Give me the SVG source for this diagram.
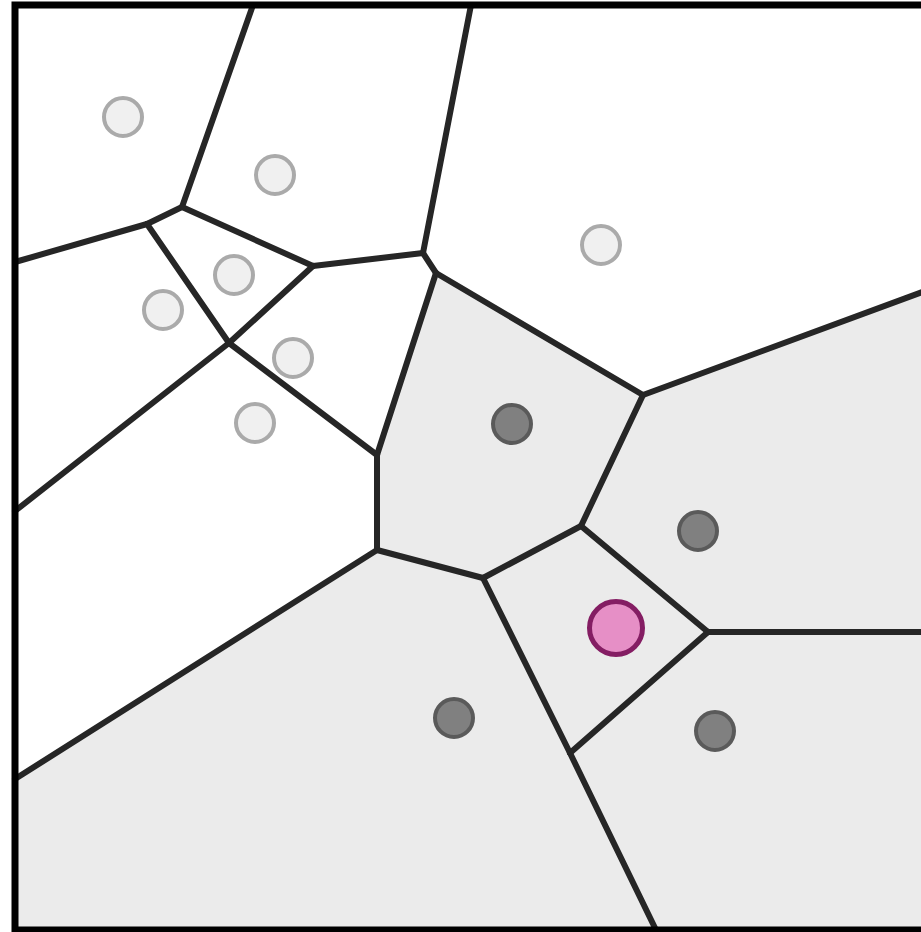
<svg xmlns="http://www.w3.org/2000/svg" width="921" height="932" viewBox="0 0 921 932">
<style>
.cell{fill:#ebebeb;stroke:none}
.edge{fill:none;stroke:#262626;stroke-width:6;stroke-linecap:round;stroke-linejoin:round}
.border{fill:none;stroke:#000;stroke-width:7}
.light{fill:#f0f0f0;stroke:#aaaaaa;stroke-width:4}
.dark{fill:#808080;stroke:#5a5a5a;stroke-width:4}
.query{fill:#e68fc6;stroke:#841d63;stroke-width:5}
</style>
<rect x="0" y="0" width="921" height="932" fill="#fff"/>
<g id="cells">
<polygon id="cell-d1" class="cell" points="436,273 643,395 581,526 483,578 377,550 377,455"/>
<polygon id="cell-d2" class="cell" points="643,395 925,291 925,632 708,632 581,526"/>
<polygon id="cell-q" class="cell" points="581,526 708,632 570,753 483,578"/>
<polygon id="cell-d3" class="cell" points="708,632 925,632 925,930 656,930 570,753"/>
<polygon id="cell-d4" class="cell" points="377,550 483,578 570,753 656,930 15,930 15,779"/>
</g>
<g id="connectors">
<path class="edge" d="M253,5 L182,207"/>
<path class="edge" d="M182,207 L147,224"/>
<path class="edge" d="M147,224 L15,262"/>
<path class="edge" d="M182,207 L313,266"/>
<path class="edge" d="M313,266 L423,253"/>
<path class="edge" d="M423,253 L471,5"/>
<path class="edge" d="M423,253 L436,273"/>
<path class="edge" d="M147,224 L229,343"/>
<path class="edge" d="M313,266 L229,343"/>
<path class="edge" d="M229,343 L15,511"/>
<path class="edge" d="M229,343 L377,455"/>
<path class="edge" d="M436,273 L377,455"/>
<path class="edge" d="M377,455 L377,550"/>
<path class="edge" d="M377,550 L15,779"/>
<path class="edge" d="M377,550 L483,578"/>
<path class="edge" d="M483,578 L581,526"/>
<path class="edge" d="M436,273 L643,395"/>
<path class="edge" d="M643,395 L581,526"/>
<path class="edge" d="M643,395 L925,291"/>
<path class="edge" d="M581,526 L708,632"/>
<path class="edge" d="M708,632 L925,632"/>
<path class="edge" d="M708,632 L570,753"/>
<path class="edge" d="M483,578 L570,753"/>
<path class="edge" d="M570,753 L656,930"/>
</g>
<rect id="frame" class="border" x="15" y="5" width="912" height="925"/>
<g id="sites">
<circle id="s1" class="light" cx="123" cy="117" r="19"/>
<circle id="s2" class="light" cx="275" cy="175" r="19"/>
<circle id="s3" class="light" cx="234" cy="275" r="19"/>
<circle id="s4" class="light" cx="163" cy="310" r="19"/>
<circle id="s5" class="light" cx="293" cy="358" r="19"/>
<circle id="s6" class="light" cx="255" cy="423" r="19"/>
<circle id="s7" class="light" cx="601" cy="245" r="19"/>
<circle id="s8" class="dark" cx="512" cy="424" r="19"/>
<circle id="s9" class="dark" cx="698" cy="531" r="19"/>
<circle id="s10" class="dark" cx="454" cy="718" r="19"/>
<circle id="s11" class="dark" cx="715" cy="731" r="19"/>
<circle id="q" class="query" cx="616" cy="628" r="26.5"/>
</g>
</svg>
